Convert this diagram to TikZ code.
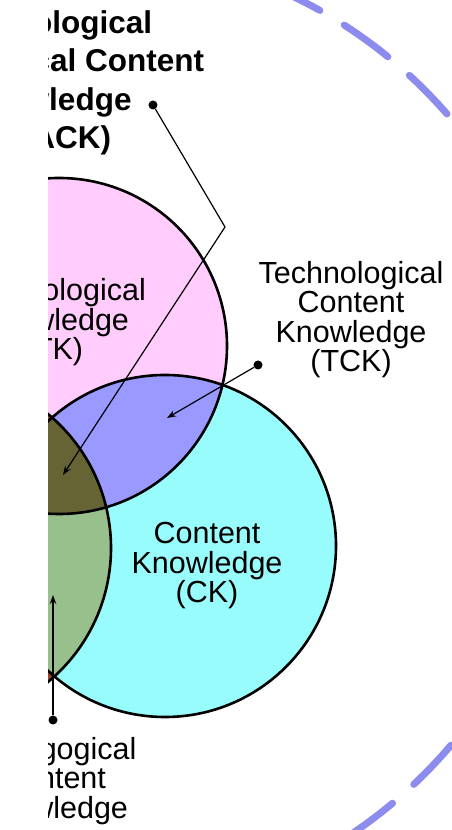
\documentclass[tikz,border=0pt]{standalone}
\usepackage{fontspec}
\setmainfont{Liberation Sans}
\usetikzlibrary{arrows.meta}

\definecolor{tkpink}{RGB}{255,204,252}
\definecolor{ckcyan}{RGB}{153,252,252}
\definecolor{tckblue}{RGB}{153,153,255}
\definecolor{tpackolive}{RGB}{102,100,52}
\definecolor{pckgreen}{RGB}{152,192,140}
\definecolor{pkfill}{RGB}{150,70,45}
\definecolor{ctxblue}{RGB}{140,140,238}

\tikzset{
  ring/.style={draw=black, line width=2.6pt},
  context/.style={draw=ctxblue, line width=7pt, line cap=round, dash pattern=on 54pt off 28.4pt},
  pointer/.style={line width=1.2pt, -{Stealth[length=9pt,width=6.5pt]}},
  dotmark/.style={circle, fill=black, inner sep=0pt, minimum size=9pt},
  label/.style={align=center, anchor=base, inner sep=0pt, font=\fontsize{30.5}{29.5}\selectfont},
}

\begin{document}
\begin{tikzpicture}[x=1pt, y=1pt]
  \useasboundingbox (0,0) rectangle (452,830);

  \def\rtk{168pt}
  \def\rpk{174pt}
  \def\rck{171pt}

  \coordinate (tk) at (59,484);
  \coordinate (pk) at (-63,282);
  \coordinate (ck) at (165,284);
  \coordinate (ctx) at (82,398);

 \begin{scope}
  \clip (48,0) rectangle (452,830);

  %context
  \draw[context] (ctx) ++(66.96:484pt) arc[start angle=66.96, end angle=-80, radius=484pt];

  %circles
  \fill[pkfill] (pk) circle (\rpk);
  \fill[tkpink] (tk) circle (\rtk);
  \fill[ckcyan] (ck) circle (\rck);

  \begin{scope}
    \clip (pk) circle (\rpk);
    \fill[pckgreen] (ck) circle (\rck);
  \end{scope}
  \begin{scope}
    \clip (tk) circle (\rtk);
    \fill[pkfill] (pk) circle (\rpk);
    \fill[tckblue] (ck) circle (\rck);
    \clip (pk) circle (\rpk);
    \fill[tpackolive] (ck) circle (\rck);
  \end{scope}

  \draw[ring] (tk) circle (\rtk);
  \draw[ring] (pk) circle (\rpk);
  \draw[ring] (ck) circle (\rck);

  %labels (base = last line)
  \node[label, font=\bfseries\fontsize{31.5}{38.5}\selectfont] (tpackLabel) at (47.5,681)
       {Technological\\Pedagogical Content\\Knowledge\\(TPACK)};
  \node[label] (tkLabel) at (53.5,470) {Technological\\Knowledge\\(TK)};
  \node[label] (tckLabel) at (351,458) {Technological\\Content\\Knowledge\\(TCK)};
  \node[label] (ckLabel) at (207,227) {Content\\Knowledge\\(CK)};
  \node[label] (pckLabel) at (52.5,12) {Pedagogical\\Content\\Knowledge};

  %pointers
  \node[dotmark] (tpackDot) at (153,725) {};
  \coordinate (tpackBend) at (225,603);
  \coordinate (tpackTip) at (63,355);
  \draw[pointer] (tpackDot) -- (tpackBend) -- (tpackTip);

  \node[dotmark] (tckDot) at (258,465) {};
  \coordinate (tckTip) at (167,412);
  \draw[pointer] (tckDot) -- (tckTip);

  \node[dotmark] (pckDot) at (53,110) {};
  \coordinate (pckTip) at (53,235);
  \draw[pointer] (pckDot) -- (pckTip);
 \end{scope}

\end{tikzpicture}
\end{document}
